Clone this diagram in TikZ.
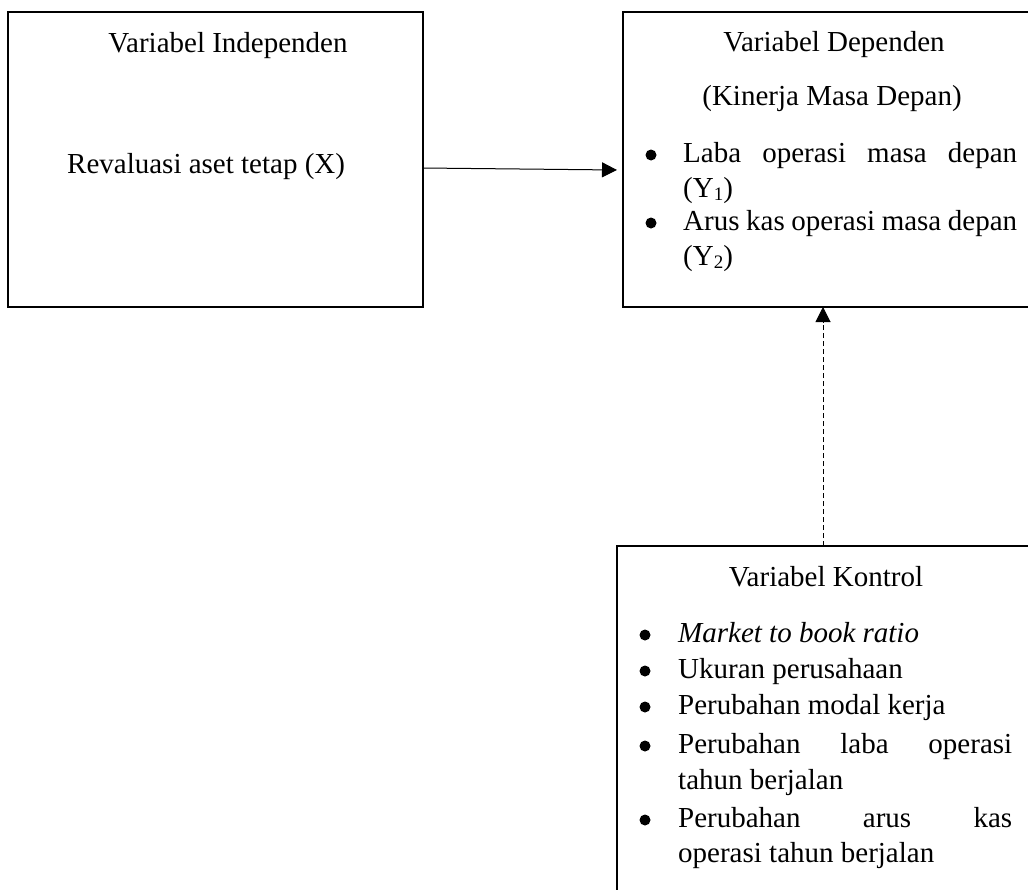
\documentclass[tikz,border=0pt]{standalone}
\usepackage{fontspec}
\setmainfont{Liberation Serif}
\usetikzlibrary{arrows.meta}
\newcommand{\mysub}[1]{\raisebox{-3pt}{\fontsize{19}{19}\selectfont #1}}
\begin{document}
\begin{tikzpicture}[x=1pt,y=-1pt,
  boxs/.style={draw,line width=2.4pt,rectangle,inner sep=0pt,outer sep=0pt},
  txt/.style={anchor=base west,inner sep=0pt,font=\fontsize{29}{36}\selectfont},
  ctxt/.style={anchor=base,inner sep=0pt,font=\fontsize{29}{36}\selectfont},
  dot/.style={circle,fill,inner sep=0pt,minimum size=11pt},
  conn/.style={line width=1pt,-{Triangle[length=15pt,width=15pt]}}]
\path[use as bounding box] (0,0) rectangle (1028,889);
\clip (0,0) rectangle (1028,889);
% boxes
\node[boxs,minimum width=415pt,minimum height=295pt] (indep) at (215.5,159.5) {};
\node[boxs,minimum width=437pt,minimum height=295pt] (dep) at (841.5,159.5) {};
\node[boxs,minimum width=443pt,minimum height=374pt] (kontrol) at (838.5,733) {};
% left box text
\node[ctxt] (ti) at (228,52) {Variabel Independen};
\node[txt] (tx) at (67,173) {Revaluasi aset tetap (X)};
% dependent box text
\node[ctxt] (td) at (834,51) {Variabel Dependen};
\node[ctxt] (tk) at (832,105) {(Kinerja Masa Depan)};
\node[dot] (d1) at (651,155) {};
\node[txt] (y1a) at (683,162) {\makebox[334pt][s]{Laba operasi masa depan}};
\node[txt] (y1b) at (683,197) {(Y\mysub{1})};
\node[dot] (d2) at (651,223) {};
\node[txt] (y2a) at (683,230) {\makebox[334pt][s]{Arus kas operasi masa depan}};
\node[txt] (y2b) at (683,265) {(Y\mysub{2})};
% control box text
\node[ctxt] (tc) at (826,586) {Variabel Kontrol};
\node[dot] (k1) at (645,635) {};
\node[txt] (c1) at (678,642) {\textit{Market to book ratio}};
\node[dot] (k2) at (645,671) {};
\node[txt] (c2) at (678,678) {Ukuran perusahaan};
\node[dot] (k3) at (645,707) {};
\node[txt] (c3) at (678,714) {Perubahan modal kerja};
\node[dot] (k4) at (645,746) {};
\node[txt] (c4a) at (678,753) {\makebox[334pt][s]{Perubahan laba operasi}};
\node[txt] (c4b) at (678,789) {tahun berjalan};
\node[dot] (k5) at (645,820) {};
\node[txt] (c5a) at (678,827) {\makebox[334pt][s]{Perubahan arus kas}};
\node[txt] (c5b) at (678,862) {operasi tahun berjalan};
% connectors
\draw[conn] ([yshift=-8.5pt]indep.east) -- ([xshift=-6pt,yshift=-10.5pt]dep.west);
\coordinate (dx) at (823,0);
\draw[conn,dash pattern=on 5pt off 3pt] (kontrol.north -| dx) -- (dep.south -| dx);
\end{tikzpicture}
\end{document}
